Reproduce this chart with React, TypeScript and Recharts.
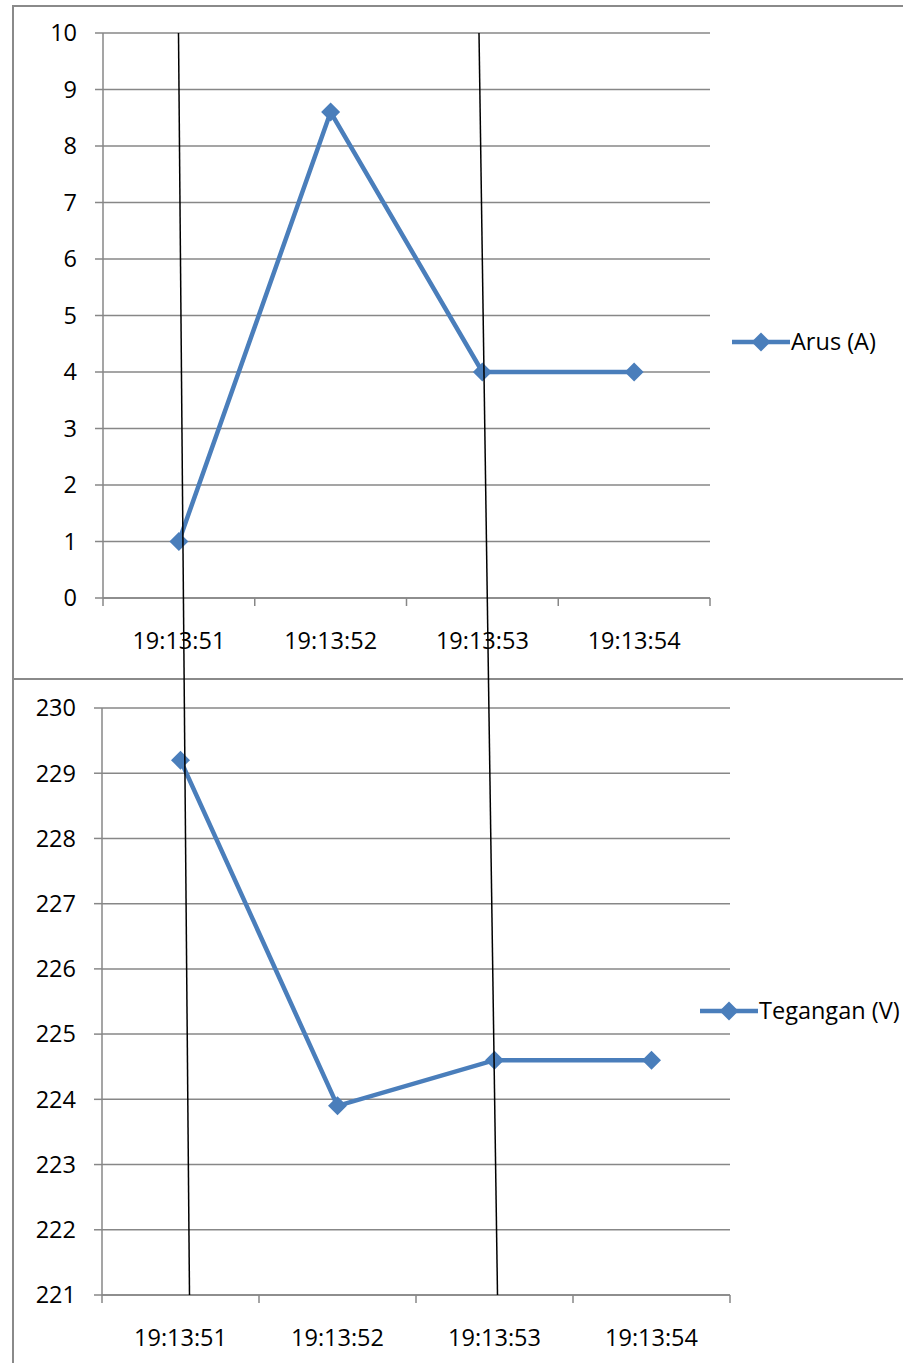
import React from 'react';
import { LineChart, Line, XAxis, YAxis, CartesianGrid, Legend } from 'recharts';

// Timestamps of the four samples
const times: string[] = ['19:13:51', '19:13:52', '19:13:53', '19:13:54'];
// Current readings (A)
const arus: number[] = [1, 8.6, 4, 4];
// Voltage readings (V)
const tegangan: number[] = [229.2, 223.9, 224.6, 224.6];
// Axis tick values
const arusTicks: number[] = [0, 1, 2, 3, 4, 5, 6, 7, 8, 9, 10];
const teganganTicks: number[] = [221, 222, 223, 224, 225, 226, 227, 228, 229, 230];

const arusData = times.map((t, i) => ({ time: t, arus: arus[i] }));
const teganganData = times.map((t, i) => ({ time: t, tegangan: tegangan[i] }));

const BLUE = '#4a7ebb';
const GRID = '#878787';
const FRAME = '#8a8a8a';
const FONT = '"Open Sans", sans-serif';
const FONT_SIZE = 23.5;
const W = 903;
const H = 1363;

function Diamond(props: any) {
  const { cx, cy } = props;
  if (cx == null || cy == null) return null;
  const r = 9.5;
  return (
    <polygon
      points={`${cx},${cy - r} ${cx + r},${cy} ${cx},${cy + r} ${cx - r},${cy}`}
      fill={BLUE}
    />
  );
}

// Category label centred in its band, with tick marks on the band edges
function TimeTick(props: any) {
  const { x, y, payload, index, band, count } = props;
  const half = band / 2;
  return (
    <g>
      <line x1={x - half} x2={x - half} y1={y} y2={y + 8} stroke={GRID} strokeWidth={1.5} />
      {index === count - 1 && (
        <line x1={x + half} x2={x + half} y1={y} y2={y + 8} stroke={GRID} strokeWidth={1.5} />
      )}
      <text
        x={x}
        y={y + 42}
        textAnchor="middle"
        dominantBaseline="central"
        fill="#000"
        fontSize={FONT_SIZE}
        fontFamily={FONT}
      >
        {payload.value}
      </text>
    </g>
  );
}

function SeriesKey(props: any) {
  const { payload } = props;
  const label = payload && payload[0] ? payload[0].value : '';
  return (
    <div style={{ display: 'flex', alignItems: 'center', whiteSpace: 'nowrap' }}>
      <svg width={58} height={20} style={{ display: 'block' }}>
        <line x1={0} y1={10} x2={58} y2={10} stroke={BLUE} strokeWidth={4.5} />
        <polygon points="29,0.5 38.5,10 29,19.5 19.5,10" fill={BLUE} />
      </svg>
      <span
        style={{
          fontSize: FONT_SIZE,
          fontFamily: FONT,
          color: '#000',
          marginLeft: 1,
          lineHeight: '31px',
        }}
      >
        {label}
      </span>
    </div>
  );
}

const yTickStyle = { fill: '#000', fontSize: FONT_SIZE, fontFamily: FONT };

export default function App() {
  return (
    <div
      style={{
        position: 'absolute',
        left: 0,
        top: 0,
        width: W,
        height: H,
        overflow: 'hidden',
        background: '#fff',
      }}
    >
      {/* panel frame: top edge, left edge and divider between the two panels */}
      <div style={{ position: 'absolute', left: 12, top: 5, width: W, height: 2, background: FRAME }} />
      <div style={{ position: 'absolute', left: 12, top: 5, width: 2, height: H, background: FRAME }} />
      <div style={{ position: 'absolute', left: 12, top: 678, width: W, height: 2, background: FRAME }} />

      {/* Current panel */}
      <div style={{ position: 'absolute', left: 0, top: 0 }}>
        <LineChart
          width={W}
          height={680}
          data={arusData}
          margin={{ top: 33, right: W - 710, bottom: 22, left: 0 }}
        >
          <CartesianGrid vertical={false} stroke={GRID} strokeWidth={1.5} />
          <XAxis
            dataKey="time"
            scale="band"
            height={60}
            interval={0}
            tickLine={false}
            tickSize={0}
            tickMargin={0}
            axisLine={{ stroke: GRID, strokeWidth: 1.5 }}
            tick={<TimeTick band={(710 - 103) / 4} count={times.length} />}
          />
          <YAxis
            width={103}
            domain={[0, 10]}
            ticks={arusTicks}
            interval={0}
            tickSize={8}
            tickMargin={18}
            tickLine={{ stroke: GRID, strokeWidth: 1.5 }}
            axisLine={{ stroke: GRID, strokeWidth: 1.5 }}
            tick={yTickStyle}
          />
          <Legend
            layout="horizontal"
            verticalAlign="middle"
            align="center"
            content={<SeriesKey />}
            wrapperStyle={{ left: 732, top: 326, width: 'auto' }}
          />
          <Line
            type="linear"
            dataKey="arus"
            name="Arus (A)"
            stroke={BLUE}
            strokeWidth={4.5}
            dot={<Diamond />}
            activeDot={false}
            isAnimationActive={false}
          />
        </LineChart>
      </div>

      {/* Voltage panel */}
      <div style={{ position: 'absolute', left: 0, top: 680 }}>
        <LineChart
          width={W}
          height={683}
          data={teganganData}
          margin={{ top: 28, right: W - 730, bottom: 8, left: 0 }}
        >
          <CartesianGrid vertical={false} stroke={GRID} strokeWidth={1.5} />
          <XAxis
            dataKey="time"
            scale="band"
            height={60}
            interval={0}
            tickLine={false}
            tickSize={0}
            tickMargin={0}
            axisLine={{ stroke: GRID, strokeWidth: 1.5 }}
            tick={<TimeTick band={(730 - 102) / 4} count={times.length} />}
          />
          <YAxis
            width={102}
            domain={[221, 230]}
            ticks={teganganTicks}
            interval={0}
            tickSize={8}
            tickMargin={18}
            tickLine={{ stroke: GRID, strokeWidth: 1.5 }}
            axisLine={{ stroke: GRID, strokeWidth: 1.5 }}
            tick={yTickStyle}
          />
          <Legend
            layout="horizontal"
            verticalAlign="middle"
            align="center"
            content={<SeriesKey />}
            wrapperStyle={{ left: 700, top: 315, width: 'auto' }}
          />
          <Line
            type="linear"
            dataKey="tegangan"
            name="Tegangan (V)"
            stroke={BLUE}
            strokeWidth={4.5}
            dot={<Diamond />}
            activeDot={false}
            isAnimationActive={false}
          />
        </LineChart>
      </div>

      {/* two hand-drawn marker lines crossing both panels */}
      <svg
        width={W}
        height={H}
        style={{ position: 'absolute', left: 0, top: 0, pointerEvents: 'none' }}
      >
        <line x1={178.5} y1={33} x2={189.5} y2={1295} stroke="#000" strokeWidth={1.5} />
        <line x1={479} y1={33} x2={497.5} y2={1295} stroke="#000" strokeWidth={1.5} />
      </svg>
    </div>
  );
}
